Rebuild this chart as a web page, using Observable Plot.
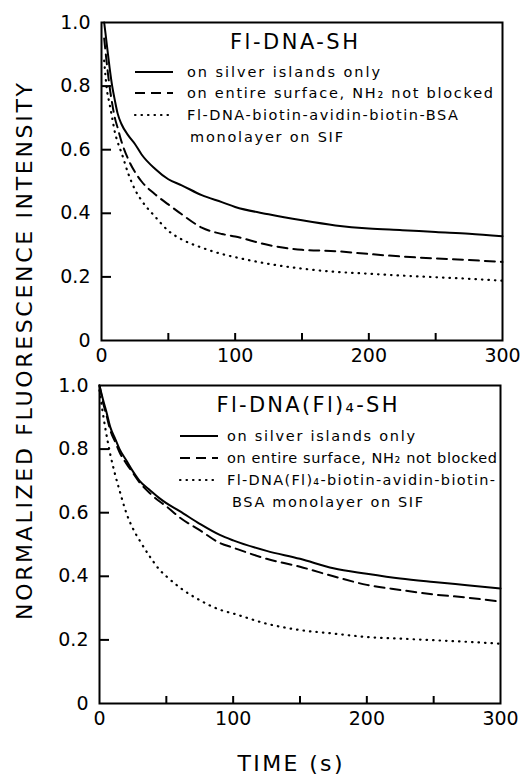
<!DOCTYPE html>
<html><head><meta charset="utf-8">
<script src="https://cdn.jsdelivr.net/npm/d3@7"></script>
<script src="https://cdn.jsdelivr.net/npm/@observablehq/plot@0.6"></script>
<style>
html,body{margin:0;padding:0;background:#fff;}
#chart{position:relative;width:525px;height:777px;font-family:"DejaVu Sans";}
#chart > svg{display:block;}
#overlay{position:absolute;left:0;top:0;pointer-events:none;}
</style></head><body><div id="chart"></div>
<script>
// ---------- data ----------
const xLabelTicks = [0, 100, 200, 300];
const xMinorTicks = [50, 100, 150, 200, 250];
const yLabelTicks = [0, 0.2, 0.4, 0.6, 0.8, 1.0];
const yInnerTicks = [0.2, 0.4, 0.6, 0.8];

const topTitle = "Fl-DNA-SH";
const bottomTitle = "Fl-DNA(Fl)₄-SH";
const seriesLabels = ["on silver islands only", "on entire surface, NH₂ not blocked"];
const topThirdLabel = ["Fl-DNA-biotin-avidin-biotin-BSA", "monolayer on SIF"];
const bottomThirdLabel = ["Fl-DNA(Fl)₄-biotin-avidin-biotin-", "BSA monolayer on SIF"];
const xTitle = "TIME (s)";
const yTitle = "NORMALIZED FLUORESCENCE INTENSITY";

// Top panel (Fl-DNA-SH)
const topTime    = [2, 4, 6, 8, 10, 12, 15, 20, 25, 30, 40, 50, 60, 75, 90, 100, 125, 150, 175, 200, 225, 250, 275, 300];
const topSilver  = [1.0, 0.93, 0.86, 0.80, 0.755, 0.715, 0.68, 0.645, 0.618, 0.585, 0.54, 0.507, 0.488, 0.457, 0.435, 0.42, 0.397, 0.378, 0.362, 0.352, 0.347, 0.341, 0.336, 0.328];
const topEntire  = [0.95, 0.87, 0.80, 0.745, 0.70, 0.67, 0.625, 0.57, 0.53, 0.50, 0.46, 0.428, 0.397, 0.355, 0.335, 0.327, 0.30, 0.285, 0.281, 0.272, 0.264, 0.258, 0.253, 0.247];
const topBSA     = [0.88, 0.79, 0.745, 0.70, 0.655, 0.625, 0.59, 0.525, 0.475, 0.44, 0.39, 0.345, 0.318, 0.292, 0.272, 0.262, 0.241, 0.226, 0.216, 0.21, 0.204, 0.199, 0.194, 0.188];

// Bottom panel (Fl-DNA(Fl)4-SH)
const botTime    = [0, 3, 5, 8, 12, 15, 20, 25, 30, 38, 45, 50, 60, 75, 90, 100, 125, 150, 175, 200, 225, 250, 275, 300];
const botSilver  = [1.0, 0.95, 0.92, 0.87, 0.83, 0.80, 0.765, 0.73, 0.70, 0.67, 0.645, 0.63, 0.605, 0.565, 0.53, 0.513, 0.48, 0.455, 0.425, 0.408, 0.393, 0.382, 0.372, 0.362];
const botEntire  = [1.0, 0.94, 0.91, 0.86, 0.82, 0.79, 0.755, 0.725, 0.695, 0.66, 0.635, 0.62, 0.585, 0.545, 0.505, 0.49, 0.455, 0.43, 0.40, 0.373, 0.357, 0.343, 0.333, 0.32];
const botBSA     = [0.985, 0.90, 0.85, 0.785, 0.715, 0.67, 0.60, 0.55, 0.513, 0.46, 0.42, 0.40, 0.365, 0.325, 0.295, 0.283, 0.251, 0.231, 0.22, 0.209, 0.204, 0.199, 0.194, 0.188];

// ---------- styles ----------
const FONT = "DejaVu Sans";
const styles = {
  solid:  {strokeWidth: 2, strokeDasharray: null},
  dashed: {strokeWidth: 2, strokeDasharray: "10,6"},
  dotted: {strokeWidth: 2.2, strokeDasharray: "0.5,6", strokeLinecap: "round"}
};
const FRAME_W = 401, FRAME_H = 318;   // inner plot size in pixels (both panels)

function annotations(cfg) {
  return (index, scales, values, dims) => {
    const g = d3.create("svg:g").attr("font-family", FONT).attr("fill", "black");
    const fl = dims.marginLeft, ft = dims.marginTop;
    g.append("text")
      .attr("x", fl + cfg.title.cx).attr("y", ft + cfg.title.cy)
      .attr("text-anchor", "middle").attr("dominant-baseline", "central")
      .attr("font-size", 21).attr("textLength", cfg.title.w).attr("lengthAdjust", "spacing")
      .text(cfg.title.text);
    cfg.rows.forEach(r => {
      if (r.style) {
        const s = styles[r.style];
        g.append("line")
          .attr("x1", fl + cfg.lineX1).attr("x2", fl + cfg.lineX2)
          .attr("y1", ft + r.y).attr("y2", ft + r.y)
          .attr("stroke", "black").attr("stroke-width", s.strokeWidth)
          .attr("stroke-dasharray", s.strokeDasharray)
          .attr("stroke-linecap", s.strokeLinecap || null);
      }
      g.append("text")
        .attr("x", fl + r.x).attr("y", ft + r.y)
        .attr("text-anchor", "start").attr("dominant-baseline", "central")
        .attr("font-size", 14.5).attr("textLength", r.w).attr("lengthAdjust", "spacing")
        .text(r.text);
    });
    return g.node();
  };
}

function panel({time, silver, entire, bsa, height, margins, annot}) {
  const mk = (vals, st) => Plot.line(time.map((t, i) => ({t, v: vals[i]})), {
    x: "t", y: "v", stroke: "black", curve: "monotone-x", ...styles[st]
  });
  return Plot.plot({
    width: 525, height,
    ...margins,
    style: {fontFamily: FONT, color: "black", background: "white", overflow: "visible"},
    x: {domain: [0, 300], label: null},
    y: {domain: [0, 1], label: null},
    marks: [
      Plot.axisY(yLabelTicks, {tickSize: 0, tickPadding: 11, fontSize: 19, label: null,
        tickFormat: d => d === 0 ? "0" : d.toFixed(1)}),
      Plot.axisX(xLabelTicks, {tickSize: 0, tickPadding: 8, fontSize: 19, label: null, tickFormat: d => String(d)}),
      // inward tick marks through the library's scales
      Plot.tickY(yInnerTicks, {y: d => d, stroke: "black", strokeWidth: 2, insetRight: FRAME_W - 10}),
      Plot.tickX(xMinorTicks, {x: d => d, stroke: "black", strokeWidth: 2, insetTop: FRAME_H - 7}),
      mk(bsa, "dotted"),
      mk(entire, "dashed"),
      mk(silver, "solid"),
      Plot.frame({stroke: "black", strokeWidth: 2}),
      annotations(annot)
    ]
  });
}

const chart = document.getElementById("chart");

chart.append(panel({
  time: topTime, silver: topSilver, entire: topEntire, bsa: topBSA,
  height: 363,
  margins: {marginLeft: 101, marginRight: 23, marginTop: 22, marginBottom: 23},
  annot: {
    title: {text: topTitle, cx: 193, cy: 20, w: 128},
    lineX1: 34, lineX2: 72,
    rows: [
      {text: seriesLabels[0], style: "solid", x: 86, y: 50, w: 193},
      {text: seriesLabels[1], style: "dashed", x: 86, y: 71, w: 306},
      {text: topThirdLabel[0], style: "dotted", x: 86, y: 93, w: 271},
      {text: topThirdLabel[1], x: 89, y: 115, w: 153}
    ]
  }
}));

chart.append(panel({
  time: botTime, silver: botSilver, entire: botEntire, bsa: botBSA,
  height: 414,
  margins: {marginLeft: 99, marginRight: 25, marginTop: 22, marginBottom: 74},
  annot: {
    title: {text: bottomTitle, cx: 208, cy: 20, w: 181},
    lineX1: 81, lineX2: 119,
    rows: [
      {text: seriesLabels[0], style: "solid", x: 128, y: 51, w: 188},
      {text: seriesLabels[1], style: "dashed", x: 128, y: 73, w: 270},
      {text: bottomThirdLabel[0], style: "dotted", x: 128, y: 95, w: 268},
      {text: bottomThirdLabel[1], x: 133, y: 117, w: 191}
    ]
  }
}));

// overlay for shared axis titles
const ov = d3.select(chart).append("svg").attr("id", "overlay")
  .attr("width", 525).attr("height", 777)
  .attr("font-family", FONT).attr("fill", "black");
ov.append("text")
  .attr("transform", "translate(24,351.5) rotate(-90)")
  .attr("text-anchor", "middle").attr("dominant-baseline", "central")
  .attr("font-size", 22).attr("textLength", 537).attr("lengthAdjust", "spacing")
  .text(yTitle);
ov.append("text")
  .attr("x", 290).attr("y", 763)
  .attr("text-anchor", "middle").attr("dominant-baseline", "central")
  .attr("font-size", 22).attr("textLength", 105).attr("lengthAdjust", "spacing")
  .text(xTitle);
</script></body></html>
